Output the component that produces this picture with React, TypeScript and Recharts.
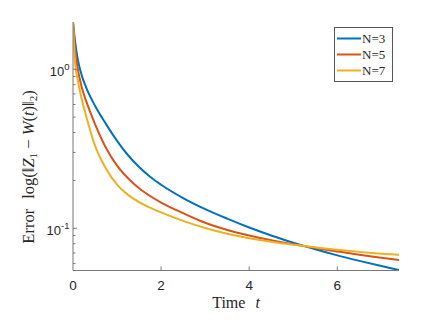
import React from 'react';
import { LineChart, Line, XAxis, YAxis } from 'recharts';

const TIME = [0, 0.05, 0.1, 0.2, 0.3, 0.5, 0.75, 1, 1.25, 1.5, 1.75, 2, 2.5, 3, 3.5, 4, 4.5, 5, 5.5, 6, 6.5, 7, 7.4];
const N3 = [1.982, 1.479, 1.189, 0.912, 0.767, 0.589, 0.452, 0.355, 0.288, 0.243, 0.211, 0.188, 0.155, 0.132, 0.115, 0.1012, 0.0902, 0.0813, 0.0738, 0.0676, 0.0624, 0.0579, 0.0547];
const N5 = [1.982, 1.318, 1.04, 0.767, 0.631, 0.452, 0.32, 0.248, 0.2065, 0.1786, 0.1596, 0.1452, 0.1245, 0.1084, 0.0977, 0.0902, 0.0841, 0.0794, 0.0753, 0.0716, 0.0682, 0.0653, 0.0631];
const N7 = [1.982, 1.072, 0.881, 0.646, 0.507, 0.331, 0.237, 0.1884, 0.1622, 0.1462, 0.1349, 0.1259, 0.1114, 0.1005, 0.0925, 0.0867, 0.0822, 0.0787, 0.0759, 0.0733, 0.0711, 0.0693, 0.0681];

const X_DOMAIN = [0, 7.4];
const Y_DOMAIN = [0.0543, 1.982];
const X_TICKS = [0, 2, 4, 6];
const Y_MAJOR = [0.1, 1];
const Y_MAJOR_EXP = ['-1', '0'];
const Y_MINOR = [0.06, 0.07, 0.08, 0.09, 0.2, 0.3, 0.4, 0.5, 0.6, 0.7, 0.8, 0.9];
const Y_TICKS = [...Y_MINOR, ...Y_MAJOR].sort((a, b) => a - b);

const SERIES = [
  { key: 'n3', name: 'N=3', color: '#0072BD', values: N3 },
  { key: 'n5', name: 'N=5', color: '#D95319', values: N5 },
  { key: 'n7', name: 'N=7', color: '#EDB120', values: N7 },
];

const data = TIME.map((t, i) => {
  const row: Record<string, number> = { t };
  SERIES.forEach((s) => {
    row[s.key] = s.values[i];
  });
  return row;
});

const AXIS = '#777777';
const TICK_FONT = '"Liberation Sans", Arial, sans-serif';
const SERIF = '"Liberation Serif", "Times New Roman", serif';

const LeftTick = (props: any) => {
  const { x, y, payload } = props;
  const idx = Y_MAJOR.indexOf(payload.value);
  const major = idx >= 0;
  return (
    <g>
      <line x1={x} x2={x + (major ? 4 : 2.5)} y1={y} y2={y} stroke={AXIS} strokeWidth={1} />
      {major && (
        <text x={x - 3.5} y={y} dy={6.5} textAnchor="end" fontSize={13} fontFamily={TICK_FONT} fill="#262626">
          10
          <tspan dy={-6} fontSize={9.5}>{Y_MAJOR_EXP[idx]}</tspan>
        </text>
      )}
    </g>
  );
};

const RightTick = (props: any) => {
  const { x, y, payload } = props;
  const major = Y_MAJOR.indexOf(payload.value) >= 0;
  return <line x1={x} x2={x - (major ? 4 : 2.5)} y1={y} y2={y} stroke={AXIS} strokeWidth={1} />;
};

const BottomTick = (props: any) => {
  const { x, y, payload } = props;
  return (
    <g>
      {payload.value !== X_DOMAIN[0] && <line x1={x} x2={x} y1={y} y2={y - 4} stroke={AXIS} strokeWidth={1} />}
      <text x={x} y={y} dy={19} textAnchor="middle" fontSize={13.5} fontFamily={TICK_FONT} fill="#262626">
        {payload.value}
      </text>
    </g>
  );
};

const TopTick = (props: any) => {
  const { x, y, payload } = props;
  if (payload.value === X_DOMAIN[0]) return <g />;
  return <line x1={x} x2={x} y1={y} y2={y + 4} stroke={AXIS} strokeWidth={1} />;
};

export default function App() {
  return (
    <div style={{ position: 'absolute', left: 0, top: 0, width: 428, height: 323, background: '#fff' }}>
      <LineChart width={428} height={323} data={data} margin={{ top: 22, right: 29, bottom: 0, left: 0 }}>
        <XAxis
          dataKey="t"
          type="number"
          domain={X_DOMAIN}
          allowDataOverflow
          ticks={X_TICKS}
          interval={0}
          height={52.5}
          tickSize={0}
          tickMargin={0}
          tickLine={false}
          axisLine={{ stroke: AXIS }}
          tick={<BottomTick />}
        />
        <XAxis
          xAxisId="top"
          orientation="top"
          dataKey="t"
          type="number"
          domain={X_DOMAIN}
          allowDataOverflow
          ticks={X_TICKS}
          interval={0}
          height={0}
          tickSize={0}
          tickMargin={0}
          tickLine={false}
          axisLine={{ stroke: AXIS }}
          tick={<TopTick />}
        />
        <YAxis
          scale="log"
          type="number"
          domain={Y_DOMAIN}
          allowDataOverflow
          ticks={Y_TICKS}
          interval={0}
          width={73}
          tickSize={0}
          tickMargin={0}
          tickLine={false}
          axisLine={{ stroke: AXIS }}
          tick={<LeftTick />}
        />
        <YAxis
          yAxisId="right"
          orientation="right"
          scale="log"
          type="number"
          domain={Y_DOMAIN}
          allowDataOverflow
          ticks={Y_TICKS}
          interval={0}
          width={0}
          tickSize={0}
          tickMargin={0}
          tickLine={false}
          axisLine={{ stroke: AXIS }}
          tick={<RightTick />}
        />
        {SERIES.map((s) => (
          <Line
            key={s.key}
            dataKey={s.key}
            name={s.name}
            type="monotone"
            stroke={s.color}
            strokeWidth={2}
            dot={false}
            isAnimationActive={false}
          />
        ))}
      </LineChart>
      <svg width={428} height={323} style={{ position: 'absolute', left: 0, top: 0, pointerEvents: 'none' }}>
        <text
          transform="translate(34,167) rotate(-90)"
          textAnchor="middle"
          fontSize={16.5}
          fontFamily={SERIF}
          fill="#262626"
        >
          Error
          <tspan dx={10}>log(‖</tspan>
          <tspan fontStyle="italic">Z</tspan>
          <tspan fontSize={11} dy={3}>1</tspan>
          <tspan dy={-3}> − </tspan>
          <tspan fontStyle="italic">W</tspan>
          <tspan>(</tspan>
          <tspan fontStyle="italic">t</tspan>
          <tspan>)‖</tspan>
          <tspan fontSize={11} dy={3}>2</tspan>
          <tspan dy={-3}>)</tspan>
        </text>
        <text x={236} y={307.5} textAnchor="middle" fontSize={16} fontFamily={SERIF} fill="#262626">
          Time
          <tspan dx={10} fontStyle="italic">t</tspan>
        </text>
        <rect x={334.5} y={27.5} width={58} height={54} fill="#fff" stroke="#555" strokeWidth={1} />
        {SERIES.map((s, i) => (
          <g key={s.key}>
            <line x1={337} x2={361} y1={38.5 + i * 16} y2={38.5 + i * 16} stroke={s.color} strokeWidth={2} />
            <text x={362} y={38.5 + i * 16} dy={4.5} fontSize={13} fontFamily={SERIF} fill="#262626">
              {s.name}
            </text>
          </g>
        ))}
      </svg>
    </div>
  );
}
